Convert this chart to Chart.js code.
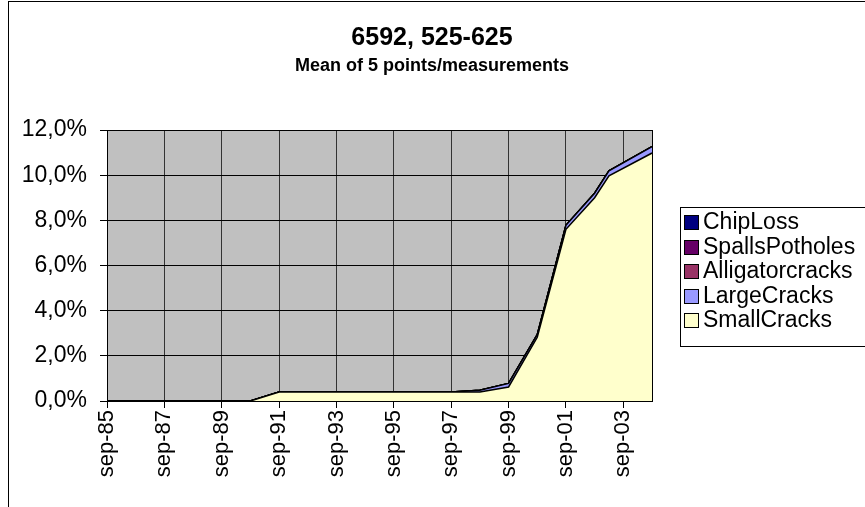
<!DOCTYPE html>
<html>
<head>
<meta charset="utf-8">
<title>6592, 525-625</title>
<script src="https://cdn.jsdelivr.net/npm/chart.js@4.4.0/dist/chart.umd.min.js"></script>
<style>
  html, body { margin: 0; padding: 0; background: #fff; overflow: hidden; }
  #wrap { width: 865px; height: 507px; }
</style>
</head>
<body>
<div id="wrap"><canvas id="chart" width="865" height="507"></canvas></div>
<script>
// measurement dates (month-yy) and cover percentages per damage type
const dates = ['sep-85', 'sep-86', 'sep-87', 'sep-88', 'sep-89', 'sep-90', 'sep-91', 'sep-92', 'sep-93', 'sep-94',
               'sep-95', 'sep-96', 'sep-97', 'sep-98', 'sep-99', 'sep-00', 'sep-01', 'sep-02', 'mar-03', 'sep-04'];
const smallCracks     = [0, 0, 0, 0, 0, 0, 0.4, 0.4, 0.4, 0.4, 0.4, 0.4, 0.4, 0.4, 0.62, 2.82, 7.6, 9.0, 9.97, 10.98];
const largeCracks     = [0, 0, 0, 0, 0, 0, 0, 0, 0, 0, 0, 0, 0, 0.08, 0.16, 0.12, 0.18, 0.2, 0.22, 0.28];
const alligatorCracks = [0, 0, 0, 0, 0, 0, 0, 0, 0, 0, 0, 0, 0, 0, 0, 0, 0, 0, 0, 0];
const spallsPotholes  = [0, 0, 0, 0, 0, 0, 0, 0, 0, 0, 0, 0, 0, 0, 0, 0, 0, 0, 0, 0];
const chipLoss        = [0, 0, 0, 0, 0, 0, 0, 0, 0, 0, 0, 0, 0, 0, 0, 0, 0, 0, 0, 0];
const tickLabels = ['sep-85', 'sep-87', 'sep-89', 'sep-91', 'sep-93', 'sep-95', 'sep-97', 'sep-99', 'sep-01', 'sep-03'];
const yTicks = [0, 2, 4, 6, 8, 10, 12];

const MONTHS = { jan: 0, feb: 1, mar: 2, apr: 3, may: 4, jun: 5, jul: 6, aug: 7, sep: 8, oct: 9, nov: 10, dec: 11 };
function toYear(s) {
    const [m, yy] = s.split('-');
    const y = parseInt(yy, 10);
    return (y > 50 ? 1900 + y : 2000 + y) + MONTHS[m] / 12;
}
function labelFor(v) {
    const hit = tickLabels.find(t => Math.abs(toYear(t) - v) < 0.01);
    return hit || '';
}

const FONT = 'Arial, "Liberation Sans", sans-serif';
const xs = dates.map(toYear);
const pts = arr => arr.map((v, i) => ({ x: xs[i], y: v }));

const series = [
    { label: 'SmallCracks', data: smallCracks, color: '#FFFFCC' },
    { label: 'LargeCracks', data: largeCracks, color: '#9999FF' },
    { label: 'Alligatorcracks', data: alligatorCracks, color: '#993366' },
    { label: 'SpallsPotholes', data: spallsPotholes, color: '#660066' },
    { label: 'ChipLoss', data: chipLoss, color: '#000080' }
];

// gray plot background, frame, outer chart border and the two title lines
const plotFrame = {
    id: 'plotFrame',
    beforeDraw(chart) {
        const { ctx, chartArea: a } = chart;
        ctx.save();
        ctx.fillStyle = '#C0C0C0';
        ctx.fillRect(a.left, a.top, a.right - a.left, a.bottom - a.top);
        ctx.strokeStyle = '#000';
        ctx.lineWidth = 1;
        ctx.strokeRect(8.5, 1.5, 1000, 1000);
        ctx.fillStyle = '#000';
        ctx.textAlign = 'center';
        ctx.textBaseline = 'middle';
        ctx.font = 'bold 25px ' + FONT;
        ctx.fillText('6592, 525-625', 432, 38);
        ctx.font = 'bold 18px ' + FONT;
        ctx.fillText('Mean of 5 points/measurements', 432, 66);
        ctx.restore();
    },
    afterDraw(chart) {
        const { ctx, chartArea: a } = chart;
        ctx.save();
        ctx.strokeStyle = '#000';
        ctx.lineWidth = 1;
        ctx.strokeRect(Math.round(a.left) + 0.5, Math.round(a.top) + 0.5,
                       Math.round(a.right - a.left), Math.round(a.bottom - a.top));
        ctx.restore();
    }
};

// Excel style boxed legend, top entry = top of the stack
const boxLegend = {
    id: 'boxLegend',
    afterDraw(chart) {
        const ctx = chart.ctx;
        ctx.save();
        ctx.strokeStyle = '#000';
        ctx.lineWidth = 1;
        ctx.strokeRect(680.5, 207.5, 300, 139);
        ctx.font = '23px ' + FONT;
        ctx.textBaseline = 'middle';
        chart.data.datasets.slice().reverse().forEach((ds, i) => {
            const y = Math.round(222 + i * 24.5);
            ctx.fillStyle = ds.backgroundColor;
            ctx.fillRect(684, y - 7, 15, 15);
            ctx.strokeRect(684.5, y - 6.5, 14, 14);
            ctx.fillStyle = '#000';
            ctx.fillText(ds.label, 703, y + 1);
        });
        ctx.restore();
    }
};

new Chart(document.getElementById('chart'), {
    type: 'line',
    data: {
        datasets: series.map((s, i) => ({
            label: s.label,
            data: pts(s.data),
            backgroundColor: s.color,
            borderColor: '#000',
            borderWidth: 1.5,
            fill: i === 0 ? 'origin' : '-1',
            pointRadius: 0,
            tension: 0
        }))
    },
    options: {
        responsive: false,
        animation: false,
        layout: { padding: { left: 0, right: 213, top: 130, bottom: 0 } },
        plugins: {
            legend: { display: false },
            tooltip: { enabled: false },
            title: { display: false }
        },
        scales: {
            x: {
                type: 'linear',
                min: toYear(dates[0]),
                max: toYear(dates[dates.length - 1]),
                afterBuildTicks: s => { s.ticks = tickLabels.map(t => ({ value: toYear(t) })); },
                afterFit: s => { s.height = 106; s.paddingLeft = 0; s.paddingRight = 0; },
                grid: { color: '#333', lineWidth: 1, tickLength: 7, tickColor: '#000', drawOnChartArea: true },
                border: { display: true, color: '#000', width: 1 },
                ticks: {
                    color: '#000',
                    font: { family: FONT, size: 22 },
                    minRotation: 90,
                    maxRotation: 90,
                    padding: 2,
                    autoSkip: false,
                    callback: v => labelFor(v)
                }
            },
            y: {
                stacked: true,
                min: 0,
                max: 12,
                afterBuildTicks: s => { s.ticks = yTicks.map(v => ({ value: v })); },
                afterFit: s => { s.width = 107; s.paddingTop = 0; s.paddingBottom = 0; },
                grid: { color: '#000', lineWidth: 1, tickLength: 7, tickColor: '#000' },
                border: { display: true, color: '#000', width: 1 },
                ticks: {
                    color: '#000',
                    font: { family: FONT, size: 23 },
                    padding: 13,
                    callback: v => v.toFixed(1).replace('.', ',') + '%'
                }
            }
        }
    },
    plugins: [plotFrame, boxLegend]
});
</script>
</body>
</html>
